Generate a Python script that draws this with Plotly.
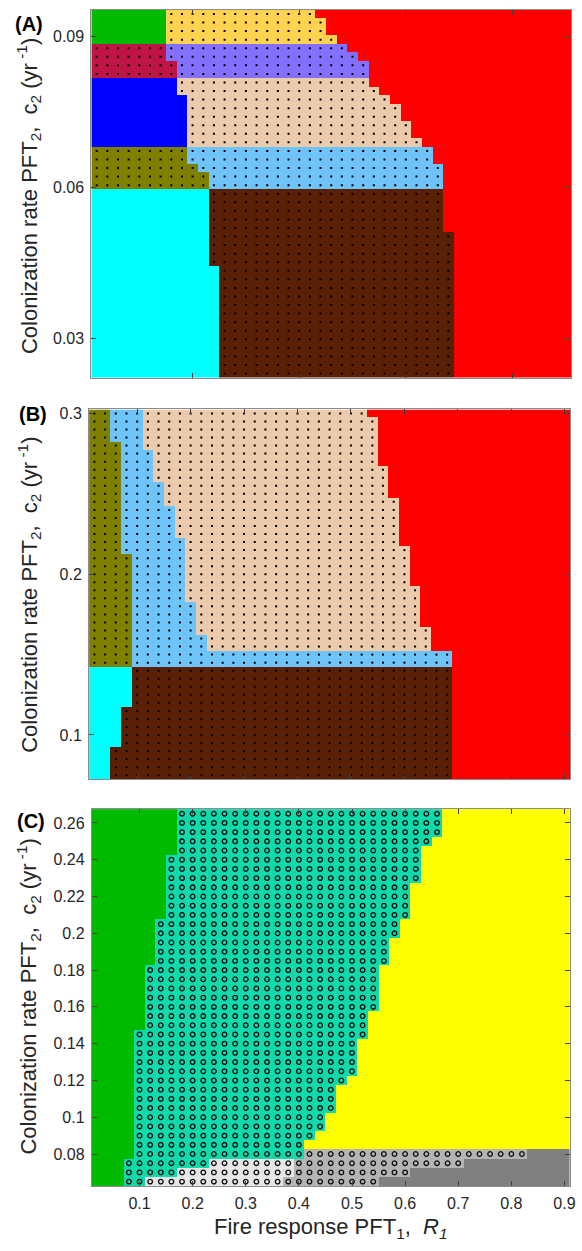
import numpy as np
import plotly.graph_objects as go

W, H = 582, 1251

# ---------------- grid of the parameter sweep (cell centres) ----------------
R1 = np.round(np.arange(1, 46) * 0.02, 2)            # Fire response PFT1, 0.02 ... 0.90
C2_A = np.round(0.023 + 0.0017 * np.arange(43), 4)   # panel A colonization rates
C2_B = np.round(0.075 + 0.005 * np.arange(46), 3)    # panel B
C2_C = np.round(0.065 + 0.005 * np.arange(41), 3)    # panel C

# ---------------- states / colours ----------------
STATES = ["G", "Y", "R", "M", "P", "B", "T", "O", "L", "C", "N", "Q", "W", "X", "Z", "D"]
COLORS = {
    "G": "#00BA00",  # green
    "Y": "#FFD24F",  # gold
    "R": "#FF0000",  # red
    "M": "#BE1446",  # crimson
    "P": "#8470FF",  # purple
    "B": "#0000FF",  # blue
    "T": "#ECCAAC",  # tan
    "O": "#808000",  # olive
    "L": "#6EC4F9",  # light blue
    "C": "#00FFFF",  # cyan
    "N": "#5A2006",  # brown
    "Q": "#10DAAC",  # teal
    "W": "#FFFF00",  # yellow
    "X": "#E6E6E6",  # light grey
    "Z": "#B4B4B4",  # mid grey
    "D": "#808080",  # dark grey
}
DOTTED = {"Y", "M", "P", "T", "O", "L", "N"}
CIRCLED = {"Q", "X", "Z"}

# bands from top (highest c2) to bottom: (number of rows, [(state, upper R1 edge), ...])
A_BANDS = [
    (1, [("G", 0.15), ("Y", 0.43), ("R", 0.91)]),
    (2, [("G", 0.15), ("Y", 0.45), ("R", 0.91)]),
    (1, [("G", 0.15), ("Y", 0.47), ("R", 0.91)]),
    (1, [("M", 0.15), ("P", 0.49), ("R", 0.91)]),
    (1, [("M", 0.15), ("P", 0.51), ("R", 0.91)]),
    (2, [("M", 0.17), ("P", 0.53), ("R", 0.91)]),
    (1, [("B", 0.17), ("T", 0.53), ("R", 0.91)]),
    (1, [("B", 0.17), ("T", 0.55), ("R", 0.91)]),
    (1, [("B", 0.19), ("T", 0.57), ("R", 0.91)]),
    (2, [("B", 0.19), ("T", 0.59), ("R", 0.91)]),
    (2, [("B", 0.19), ("T", 0.61), ("R", 0.91)]),
    (1, [("B", 0.19), ("T", 0.63), ("R", 0.91)]),
    (2, [("O", 0.19), ("L", 0.65), ("R", 0.91)]),
    (1, [("O", 0.21), ("L", 0.67), ("R", 0.91)]),
    (2, [("O", 0.23), ("L", 0.67), ("R", 0.91)]),
    (5, [("C", 0.23), ("N", 0.67), ("R", 0.91)]),
    (4, [("C", 0.23), ("N", 0.69), ("R", 0.91)]),
    (13, [("C", 0.25), ("N", 0.69), ("R", 0.91)]),
]

B_BANDS = [
    (1, [("O", 0.05), ("L", 0.11), ("T", 0.53), ("R", 0.91)]),
    (3, [("O", 0.05), ("L", 0.11), ("T", 0.55), ("R", 0.91)]),
    (1, [("O", 0.07), ("L", 0.11), ("T", 0.55), ("R", 0.91)]),
    (2, [("O", 0.07), ("L", 0.13), ("T", 0.55), ("R", 0.91)]),
    (2, [("O", 0.07), ("L", 0.13), ("T", 0.57), ("R", 0.91)]),
    (2, [("O", 0.07), ("L", 0.15), ("T", 0.57), ("R", 0.91)]),
    (1, [("O", 0.07), ("L", 0.15), ("T", 0.59), ("R", 0.91)]),
    (4, [("O", 0.07), ("L", 0.17), ("T", 0.59), ("R", 0.91)]),
    (1, [("O", 0.07), ("L", 0.19), ("T", 0.59), ("R", 0.91)]),
    (1, [("O", 0.07), ("L", 0.19), ("T", 0.61), ("R", 0.91)]),
    (4, [("O", 0.09), ("L", 0.19), ("T", 0.61), ("R", 0.91)]),
    (2, [("O", 0.09), ("L", 0.19), ("T", 0.63), ("R", 0.91)]),
    (3, [("O", 0.09), ("L", 0.21), ("T", 0.63), ("R", 0.91)]),
    (1, [("O", 0.09), ("L", 0.21), ("T", 0.65), ("R", 0.91)]),
    (2, [("O", 0.09), ("L", 0.23), ("T", 0.65), ("R", 0.91)]),
    (2, [("O", 0.09), ("L", 0.69), ("R", 0.91)]),
    (5, [("C", 0.09), ("N", 0.69), ("R", 0.91)]),
    (5, [("C", 0.07), ("N", 0.69), ("R", 0.91)]),
    (4, [("C", 0.05), ("N", 0.69), ("R", 0.91)]),
]

C_BANDS = [
    (3, [("G", 0.17), ("Q", 0.67), ("W", 0.91)]),
    (1, [("G", 0.17), ("Q", 0.65), ("W", 0.91)]),
    (1, [("G", 0.17), ("Q", 0.63), ("W", 0.91)]),
    (3, [("G", 0.15), ("Q", 0.63), ("W", 0.91)]),
    (4, [("G", 0.15), ("Q", 0.61), ("W", 0.91)]),
    (2, [("G", 0.13), ("Q", 0.59), ("W", 0.91)]),
    (3, [("G", 0.13), ("Q", 0.57), ("W", 0.91)]),
    (5, [("G", 0.11), ("Q", 0.55), ("W", 0.91)]),
    (2, [("G", 0.11), ("Q", 0.53), ("W", 0.91)]),
    (1, [("G", 0.09), ("Q", 0.53), ("W", 0.91)]),
    (4, [("G", 0.09), ("Q", 0.51), ("W", 0.91)]),
    (1, [("G", 0.09), ("Q", 0.49), ("W", 0.91)]),
    (3, [("G", 0.09), ("Q", 0.47), ("W", 0.91)]),
    (2, [("G", 0.09), ("Q", 0.45), ("W", 0.91)]),
    (1, [("G", 0.09), ("Q", 0.43), ("W", 0.91)]),
    (1, [("G", 0.09), ("Q", 0.41), ("W", 0.91)]),
    (1, [("G", 0.09), ("Q", 0.41), ("Z", 0.83), ("D", 0.91)]),
    (1, [("G", 0.07), ("Q", 0.23), ("X", 0.39), ("Z", 0.71), ("D", 0.91)]),
    (1, [("G", 0.07), ("Q", 0.17), ("X", 0.39), ("Z", 0.61), ("D", 0.91)]),
    (1, [("G", 0.07), ("Q", 0.11), ("X", 0.37), ("Z", 0.55), ("D", 0.91)]),
]


def build(bands, c2):
    rows = []
    for n, segs in bands:
        row = []
        for x in R1:
            for s, edge in segs:
                if x < edge:
                    row.append(s)
                    break
        rows += [row] * n
    rows = rows[::-1]  # bottom (low c2) first
    assert len(rows) == len(c2), (len(rows), len(c2))
    return rows


K = len(STATES)
colorscale = []
for i, s in enumerate(STATES):
    colorscale.append([i / K, COLORS[s]])
    colorscale.append([(i + 1) / K, COLORS[s]])

FONT = "Liberation Sans, Arial, Helvetica, sans-serif"
TXT = "#262626"

fig = go.Figure()

panels = [
    ("", A_BANDS, C2_A),
    ("2", B_BANDS, C2_B),
    ("3", C_BANDS, C2_C),
]

for suf, bands, c2 in panels:
    rows = build(bands, c2)
    z = [[STATES.index(s) for s in row] for row in rows]
    fig.add_trace(go.Heatmap(
        x=R1, y=c2, z=z, colorscale=colorscale, zmin=-0.5, zmax=K - 0.5,
        showscale=False, hoverinfo="skip", xaxis="x" + suf, yaxis="y" + suf))
    dx, dy, cx, cy = [], [], [], []
    for i, row in enumerate(rows):
        for j, s in enumerate(row):
            if s in DOTTED:
                dx.append(R1[j]); dy.append(c2[i])
            elif s in CIRCLED:
                cx.append(R1[j]); cy.append(c2[i])
    if dx:
        fig.add_trace(go.Scatter(
            x=dx, y=dy, mode="markers", hoverinfo="skip",
            marker=dict(symbol="square", size=2, color="#000000", line=dict(width=0)),
            xaxis="x" + suf, yaxis="y" + suf))
    if cx:
        fig.add_trace(go.Scatter(
            x=cx, y=cy, mode="markers", hoverinfo="skip",
            marker=dict(symbol="circle-open", size=4.6, color="#0d0d0d", line=dict(width=1.3)),
            xaxis="x" + suf, yaxis="y" + suf))


def px_dom(a, b, total):
    return [a / total, b / total]


def py_dom(top, bottom):
    return [1 - bottom / H, 1 - top / H]


def axis(domain, rng, tickvals, ticktext, labels, anchor):
    return dict(
        domain=domain, range=rng, tickvals=tickvals, ticktext=ticktext,
        showticklabels=labels, ticks="inside", ticklen=5, tickwidth=1,
        tickcolor="#404040", showline=True, linecolor="#8c8c8c", linewidth=1,
        mirror="ticks", showgrid=False, zeroline=False, anchor=anchor,
        tickfont=dict(family=FONT, size=16, color=TXT), ticklabelstandoff=3,
    )


XT_A = [0.2, 0.4, 0.6, 0.8]
XT = [0.1, 0.2, 0.3, 0.4, 0.5, 0.6, 0.7, 0.8, 0.9]
XT_TXT = ["0.1", "0.2", "0.3", "0.4", "0.5", "0.6", "0.7", "0.8", "0.9"]
YT_A = [0.03, 0.06, 0.09]
YT_A_TXT = ["0.03", "0.06", "0.09"]
YT_B = [0.1, 0.2, 0.3]
YT_B_TXT = ["0.1", "0.2", "0.3"]
YT_C = [0.08, 0.10, 0.12, 0.14, 0.16, 0.18, 0.20, 0.22, 0.24, 0.26]
YT_C_TXT = ["0.08", "0.1", "0.12", "0.14", "0.16", "0.18", "0.2", "0.22", "0.24", "0.26"]

A_TOP, A_BOT = 5.7, 375.0
B_TOP, B_BOT = 406.7, 777.7
C_TOP, C_BOT = 807.7, 1186.0

fig.update_layout(
    width=W, height=H, margin=dict(l=0, r=0, t=0, b=0),
    paper_bgcolor="white", plot_bgcolor="white", showlegend=False,
    xaxis=axis(px_dom(92.3, 577.0, W), [0.01, 0.91], XT_A, None, False, "y"),
    yaxis=axis(py_dom(A_TOP, A_BOT), [0.02215, 0.09525], YT_A, YT_A_TXT, True, "x"),
    xaxis2=axis(px_dom(90.0, 576.0, W), [0.01, 0.91], XT, XT_TXT, False, "y2"),
    yaxis2=axis(py_dom(B_TOP, B_BOT), [0.0725, 0.3025], YT_B, YT_B_TXT, True, "x2"),
    xaxis3=axis(px_dom(92.7, 575.7, W), [0.01, 0.91], XT, XT_TXT, True, "y3"),
    yaxis3=axis(py_dom(C_TOP, C_BOT), [0.0625, 0.2675], YT_C, YT_C_TXT, True, "x3"),
)

YTITLE = "Colonization rate PFT<sub>2</sub>,&nbsp; c<sub>2</sub> (yr<sup> -1</sup>)"
ann = []
for lab, x, y in [("(A)", 29, 20), ("(B)", 33, 411), ("(C)", 31, 820)]:
    ann.append(dict(text="<b>%s</b>" % lab, x=x / W, y=1 - y / H, xref="paper", yref="paper",
                    showarrow=False, xanchor="center", yanchor="middle",
                    font=dict(family=FONT, size=20, color="#000000")))
for yc in [193.0, 593.0, 996.0]:
    ann.append(dict(text=YTITLE, x=29 / W, y=1 - yc / H, xref="paper", yref="paper",
                    showarrow=False, xanchor="center", yanchor="middle", textangle=-90,
                    font=dict(family=FONT, size=22, color=TXT)))
ann.append(dict(text="Fire response PFT<sub>1</sub>,&nbsp; <i>R<sub>1</sub></i>",
                x=334 / W, y=1 - 1228 / H, xref="paper", yref="paper", showarrow=False,
                xanchor="center", yanchor="middle", font=dict(family=FONT, size=22, color=TXT)))
fig.update_layout(annotations=ann)

fig.write_html("out.html")
